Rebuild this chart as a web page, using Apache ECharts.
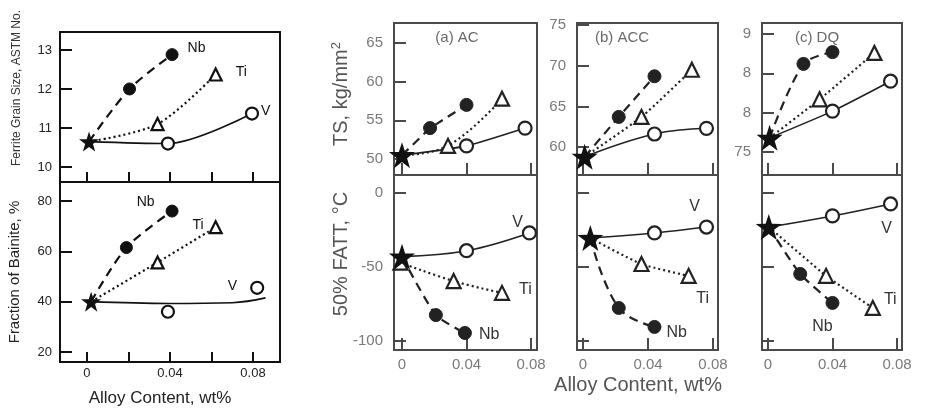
<!DOCTYPE html>
<html>
<head>
<meta charset="utf-8">
<script src="https://cdn.jsdelivr.net/npm/echarts@6/dist/echarts.min.js"></script>
<style>html,body{margin:0;padding:0;background:#fff;}#c{width:926px;height:408px;}</style>
</head>
<body>
<div id="c"></div>
<script>
// ---------------- DATA ----------------
const xTicksLeft = [0, 0.02, 0.04, 0.06, 0.08];
const xTicksRight = [0, 0.04, 0.08];
const xTickLabels = [0, 0.04, 0.08];

const grainTicks = [10, 11, 12, 13];
const bainTicks = [20, 40, 60, 80];
const tsACTicks = [50, 55, 60, 65];
const tsACCTicks = [60, 65, 70, 75];
const tsDQTicks = [75, 80, 85, 90];
const tsDQTickText = ['75', '8', '8', '9'];
const fattTicks = [0, -50, -100];
const fattTickLabels = [0, -50, -100];

// Left figure: ferrite grain size
const grainOrigin = [0.001, 10.65];
const grainNb = [[0.0205, 12.0], [0.041, 12.88]];
const grainTi = [[0.034, 11.1], [0.062, 12.37]];
const grainV = [[0.039, 10.6], [0.0795, 11.37]];
// Left figure: fraction of bainite
const bainOrigin = [0.002, 40];
const bainNb = [[0.019, 61.5], [0.041, 76]];
const bainTi = [[0.034, 55.6], [0.062, 69.6]];
const bainV = [[0.039, 36], [0.082, 45.5]];
const bainVFit = [[0.002, 40], [0.04, 39.3], [0.07, 39.6], [0.086, 41.5]];

// (a) AC
const tsACOrigin = [0, 50.5];
const tsACNb = [[0.0174, 54.0], [0.04, 57.0]];
const tsACTi = [[0.0285, 51.7], [0.062, 57.8]];
const tsACV = [[0.04, 51.7], [0.0763, 54.0]];
const fattACOrigin = [0, -43];
const fattACNb = [[0.021, -82.5], [0.039, -94.6]];
const fattACTi = [[-0.001, -47], [0.032, -59.5], [0.062, -67.5]];
const fattACV = [[0.04, -39], [0.079, -27]];
// (b) ACC
const tsACCOrigin = [0.001, 58.8];
const tsACCNb = [[0.022, 63.7], [0.044, 68.7]];
const tsACCTi = [[0.036, 63.7], [0.067, 69.5]];
const tsACCV = [[0.044, 61.6], [0.076, 62.3]];
const fattACCOrigin = [0.0045, -30.4];
const fattACCNb = [[0.022, -77.7], [0.044, -90.5]];
const fattACCTi = [[0.036, -48], [0.065, -56]];
const fattACCV = [[0.044, -27], [0.076, -23]];
// (c) DQ
const tsDQOrigin = [0.001, 76.8];
const tsDQNb = [[0.022, 86.2], [0.040, 87.7]];
const tsDQTi = [[0.032, 81.7], [0.066, 87.6]];
const tsDQV = [[0.040, 80.2], [0.076, 84.0]];
const fattDQOrigin = [0.0005, -23];
const fattDQNb = [[0.02, -54.7], [0.04, -74.3]];
const fattDQTi = [[0.036, -56], [0.065, -77.7]];
const fattDQV = [[0.04, -15.5], [0.076, -7.4]];

// ---------------- STYLE / LAYOUT ----------------
const FONT = '"Liberation Sans", Arial, sans-serif';
const STAR = 'path://M50,0 L61.8,35.1 L98.6,35.3 L69,57.3 L79.9,92.7 L50,71.2 L20.1,92.7 L31,57.3 L1.4,35.3 L38.2,35.1 Z';
const LBLACK = '#111';
const RLINE = '#222';
const RBOX = '#4a4a4a';
const RTXT = '#7a7a7a';

const grids = [
  {left: 60, top: 32, width: 220, height: 150},
  {left: 60, top: 182, width: 220, height: 180},
  {left: 394, top: 23, width: 143, height: 152},
  {left: 394, top: 175, width: 143, height: 175},
  {left: 577, top: 23, width: 141, height: 152},
  {left: 577, top: 175, width: 141, height: 175},
  {left: 762, top: 23, width: 140, height: 152},
  {left: 762, top: 175, width: 140, height: 175}
].map(g => Object.assign({show: true, borderWidth: 2, backgroundColor: 'transparent',
  borderColor: g.left < 300 ? LBLACK : RBOX}, g));

function xAx(i, min, max, ticks, showLabels, left) {
  const col = left ? LBLACK : RBOX;
  return {
    gridIndex: i, type: 'value', min: min, max: max,
    axisLine: {show: true, onZero: false, lineStyle: {color: col, width: 2}},
    splitLine: {show: false},
    axisTick: {show: true, inside: true, length: left ? 10 : 12, customValues: ticks, lineStyle: {color: col, width: 2}},
    axisLabel: {show: showLabels, customValues: xTickLabels, color: left ? '#222' : RTXT,
      fontSize: left ? 13 : 15, fontFamily: FONT, margin: left ? 5 : 7,
      formatter: v => String(+(+v).toFixed(2))}
  };
}
function yAx(i, min, max, ticks, labels, left, fmt) {
  const col = left ? LBLACK : RBOX;
  return {
    gridIndex: i, type: 'value', min: min, max: max,
    axisLine: {show: true, onZero: false, lineStyle: {color: col, width: 2}},
    splitLine: {show: false},
    axisTick: {show: true, inside: true, length: 12, customValues: ticks, lineStyle: {color: col, width: 2}},
    axisLabel: {show: !!labels, customValues: labels || [], color: left ? '#222' : RTXT,
      fontSize: left ? 13 : 15, fontFamily: FONT, margin: left ? 8 : 11,
      formatter: fmt || (v => String(Math.round(v)))}
  };
}

const xAxes = [
  xAx(0, -0.0130, 0.0930, xTicksLeft, false, true),
  xAx(1, -0.0130, 0.0930, xTicksLeft, true, true),
  xAx(2, -0.00496, 0.0837, xTicksRight, false, false),
  xAx(3, -0.00496, 0.0837, xTicksRight, true, false),
  xAx(4, -0.0037, 0.0831, xTicksRight, false, false),
  xAx(5, -0.0037, 0.0831, xTicksRight, true, false),
  xAx(6, -0.0037, 0.0831, xTicksRight, false, false),
  xAx(7, -0.0037, 0.0831, xTicksRight, true, false)
];
const dqFmt = v => tsDQTickText[tsDQTicks.indexOf(Math.round(v))];
const yAxes = [
  yAx(0, 9.615, 13.46, grainTicks, grainTicks, true),
  yAx(1, 16.03, 87.55, bainTicks, bainTicks, true),
  yAx(2, 47.93, 67.59, tsACTicks, tsACTicks, false),
  yAx(3, -106.1, 12.16, fattTicks, fattTickLabels, false),
  yAx(4, 56.56, 75.25, tsACCTicks, tsACCTicks, false),
  yAx(5, -106.1, 12.16, fattTicks, null, false),
  yAx(6, 72.08, 91.4, tsDQTicks, tsDQTicks, false, dqFmt),
  yAx(7, -106.1, 12.16, fattTicks, null, false)
];

const KIND = {
  Nb: {type: [9, 6], width: 2.2, symbol: 'circle', fill: 'filled'},
  Ti: {type: [2, 3], width: 2.2, symbol: 'triangle', fill: 'open'},
  V:  {type: 'solid', width: 1.6, symbol: 'circle', fill: 'open'}
};

function lineSer(i, kind, origin, pts, left, lab, opt) {
  opt = opt || {};
  const k = KIND[kind];
  const col = left ? LBLACK : RLINE;
  const size = left ? 12 : (k.symbol === 'triangle' ? 14 : 13);
  const data = [];
  if (origin) data.push({value: origin, symbol: 'none'});
  pts.forEach((p, j) => {
    const item = {value: p};
    if (lab && j === pts.length - 1) {
      item.label = Object.assign({show: true, formatter: kind, color: left ? '#111' : '#333',
        fontSize: left ? 14 : 16, fontFamily: FONT}, lab);
    }
    data.push(item);
  });
  return {
    type: 'line', xAxisIndex: i, yAxisIndex: i, data: data,
    smooth: opt.smooth === undefined ? 0.3 : opt.smooth,
    symbol: k.symbol, symbolSize: size, showAllSymbol: true,
    lineStyle: {color: col, width: k.width, type: k.type},
    itemStyle: k.fill === 'filled' ? {color: col, borderColor: col, borderWidth: 1, opacity: 1}
                                   : {color: '#fff', borderColor: col, borderWidth: 2.2, opacity: 1},
    z: 3, animation: false, silent: true
  };
}
function starSer(i, origin, left) {
  return {type: 'scatter', xAxisIndex: i, yAxisIndex: i, data: [origin], symbol: STAR,
    symbolSize: left ? 20 : 26, itemStyle: {color: '#111', opacity: 1}, z: 10, animation: false, silent: true};
}

const series = [
  // left top
  lineSer(0, 'Nb', grainOrigin, grainNb, true, {position: 'right', offset: [4, -6]}),
  lineSer(0, 'Ti', grainOrigin, grainTi, true, {position: 'right', offset: [8, -2]}),
  lineSer(0, 'V', grainOrigin, grainV, true, {position: 'right', offset: [-3, -2]}),
  starSer(0, grainOrigin, true),
  // left bottom
  lineSer(1, 'Nb', bainOrigin, bainNb, true, {position: 'left', offset: [-6, -9]}),
  lineSer(1, 'Ti', bainOrigin, bainTi, true, {position: 'left', offset: [0, -2]}),
  {type: 'line', xAxisIndex: 1, yAxisIndex: 1, data: bainVFit, smooth: 0.4, symbol: 'none',
   lineStyle: {color: LBLACK, width: 1.6}, z: 2, animation: false, silent: true},
  {type: 'scatter', xAxisIndex: 1, yAxisIndex: 1, symbol: 'circle', symbolSize: 12,
   itemStyle: {color: '#fff', borderColor: LBLACK, borderWidth: 2.2, opacity: 1}, z: 3, animation: false, silent: true,
   data: bainV.map((p, j) => j === bainV.length - 1 ? {value: p, label: {show: true, formatter: 'V',
     position: 'left', offset: [-8, -2], color: '#111', fontSize: 14, fontFamily: FONT}} : p)},
  starSer(1, bainOrigin, true),
  // (a) top
  lineSer(2, 'Nb', tsACOrigin, tsACNb, false, null, {smooth: 0}),
  lineSer(2, 'Ti', tsACOrigin, tsACTi, false, null, {smooth: 0.4}),
  lineSer(2, 'V', tsACOrigin, tsACV, false, null, {smooth: 0.2}),
  starSer(2, tsACOrigin, false),
  // (a) bottom
  lineSer(3, 'Nb', fattACOrigin, fattACNb, false, {position: 'right', offset: [2, 2]}, {smooth: 0.2}),
  lineSer(3, 'Ti', null, fattACTi, false, {position: 'right', offset: [4, -3]}, {smooth: 0.4}),
  lineSer(3, 'V', fattACOrigin, fattACV, false, {position: 'left', offset: [6, -10]}, {smooth: 0.4}),
  starSer(3, fattACOrigin, false),
  // (b) top
  lineSer(4, 'Nb', tsACCOrigin, tsACCNb, false, null, {smooth: 0}),
  lineSer(4, 'Ti', tsACCOrigin, tsACCTi, false, null, {smooth: 0.2}),
  lineSer(4, 'V', tsACCOrigin, tsACCV, false, null, {smooth: 0.4}),
  starSer(4, tsACCOrigin, false),
  // (b) bottom
  lineSer(5, 'Nb', fattACCOrigin, fattACCNb, false, {position: 'right', offset: [0, 6]}, {smooth: 0.4}),
  lineSer(5, 'Ti', fattACCOrigin, fattACCTi, false, {position: 'bottom', offset: [14, 2]}, {smooth: 0.2}),
  lineSer(5, 'V', fattACCOrigin, fattACCV, false, {position: 'top', offset: [-12, 0]}, {smooth: 0.4}),
  starSer(5, fattACCOrigin, false),
  // (c) top
  lineSer(6, 'Nb', tsDQOrigin, tsDQNb, false, null, {smooth: 0.3}),
  lineSer(6, 'Ti', tsDQOrigin, tsDQTi, false, null, {smooth: 0.2}),
  lineSer(6, 'V', tsDQOrigin, tsDQV, false, null, {smooth: 0.2}),
  starSer(6, tsDQOrigin, false),
  // (c) bottom
  lineSer(7, 'Nb', fattDQOrigin, fattDQNb, false, {position: 'bottom', offset: [-10, 4]}, {smooth: 0.2}),
  lineSer(7, 'Ti', fattDQOrigin, fattDQTi, false, {position: 'right', offset: [-2, -8]}, {smooth: 0.1}),
  lineSer(7, 'V', fattDQOrigin, fattDQV, false, {position: 'bottom', offset: [-4, 4]}, {smooth: 0.4}),
  starSer(7, fattDQOrigin, false)
];

function vText(x, y, text, size, color, rich) {
  return {type: 'text', x: x, y: y, rotation: Math.PI / 2, silent: true,
    style: {text: text, fontSize: size, fill: color, fontFamily: FONT, align: 'center', verticalAlign: 'middle', rich: rich}};
}
function hText(x, y, text, size, color) {
  return {type: 'text', x: x, y: y, silent: true,
    style: {text: text, fontSize: size, fill: color, fontFamily: FONT, align: 'center', verticalAlign: 'middle'}};
}

const graphic = [
  vText(17, 88, 'Ferrite Grain Size, ASTM No.', 12, '#333'),
  vText(15, 272, 'Fraction of Bainite, %', 15, '#222'),
  hText(160, 398, 'Alloy Content, wt%', 17, '#222'),
  vText(341, 94, 'TS, kg/mm{sup|2}', 20, '#555', {sup: {fontSize: 13, fill: '#555', verticalAlign: 'bottom', padding: [0, 0, 10, 0], fontFamily: FONT}}),
  vText(341, 254, '50% FATT, °C', 20, '#555'),
  hText(638, 385, 'Alloy Content, wt%', 20, '#555'),
  hText(457, 38, '(a) AC', 15, '#6a6a6a'),
  hText(622, 38, '(b) ACC', 15, '#6a6a6a'),
  hText(817, 38, '(c) DQ', 15, '#6a6a6a')
];

const chart = echarts.init(document.getElementById('c'), null, {renderer: 'canvas'});
chart.setOption({
  backgroundColor: '#fff',
  animation: false,
  grid: grids,
  xAxis: xAxes,
  yAxis: yAxes,
  series: series,
  graphic: graphic
});
</script>
</body>
</html>
